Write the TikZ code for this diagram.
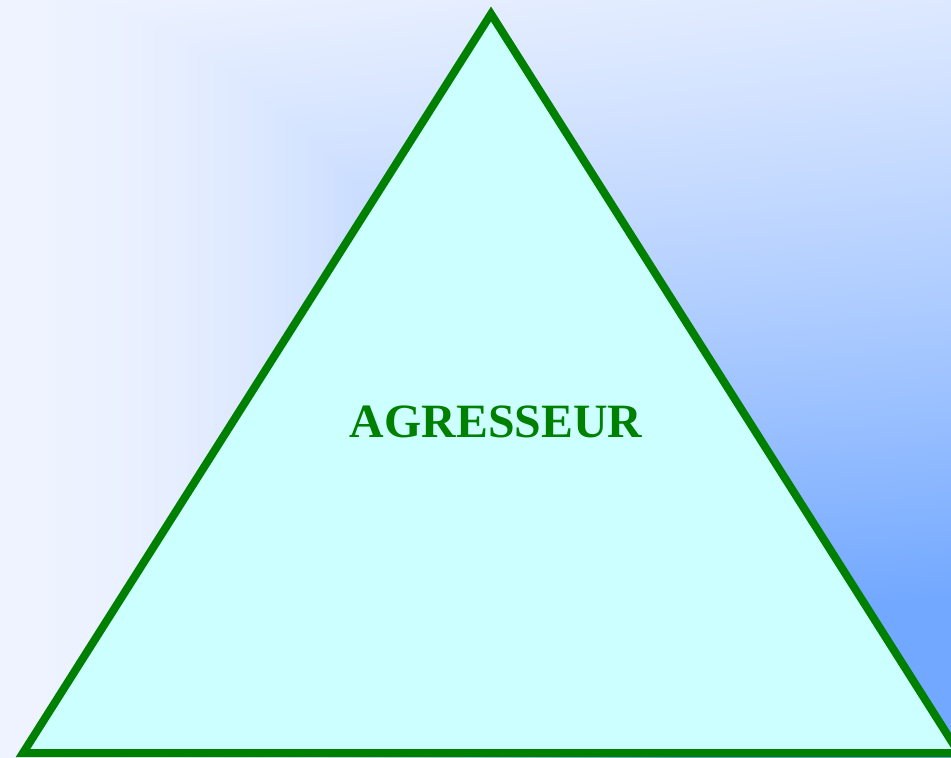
\documentclass[tikz,border=0pt]{standalone}
\usepackage{fontspec}
\setmainfont{Liberation Serif}
\usepackage{tikz}
\usetikzlibrary{positioning}
\definecolor{leafgreen}{HTML}{008000}
\definecolor{paleaqua}{HTML}{CCFFFF}
% background: pale on the left, deep blue towards the lower right
\pgfdeclarefunctionalshading{skyblue}{\pgfpointorigin}{\pgfpoint{100bp}{100bp}}{}{
  75 exch sub 50 div          % x v
  exch 25 sub 50 div          % v u
  dup dup mul 2 mul           % v u cu
  3 1 roll                    % cu v u
  0.14 mul                    % cu v a
  exch dup dup mul 0.3 mul    % cu a v b
  exch 0.85 mul add add       % cu d
  2 copy sub abs 3 1 roll add exch sub 2 div   % t
  1 2 copy sub abs 3 1 roll add exch sub 2 div % t<=1
  dup 124 mul 238 exch sub 255 div
  exch 75 mul 243 exch sub 255 div
  1
}
\tikzset{
  edge/.style  = {draw=leafgreen, line width=0.8mm, line join=miter, fill=paleaqua},
  tag/.style   = {text=leafgreen, font=\bfseries\fontsize{13.6pt}{16pt}\selectfont, inner sep=0pt},
}

\begin{document}
\begin{tikzpicture}[x=1cm,y=1cm]
  \useasboundingbox (0,0) rectangle (9.51,7.57);
  \clip (0,0) rectangle (9.51,7.57);
  \shade[shading=skyblue] (0,0) rectangle (9.51,7.57);
  \coordinate (top) at (4.91,7.43);
  \coordinate (bl) at (0.23,0.04);
  \coordinate (br) at (9.59,0.04);
  \path[edge] (top) -- (bl) -- (br) -- cycle;
  \node[tag] (agr) at (4.96,3.35) {AGRESSEUR};
\end{tikzpicture}
\end{document}
